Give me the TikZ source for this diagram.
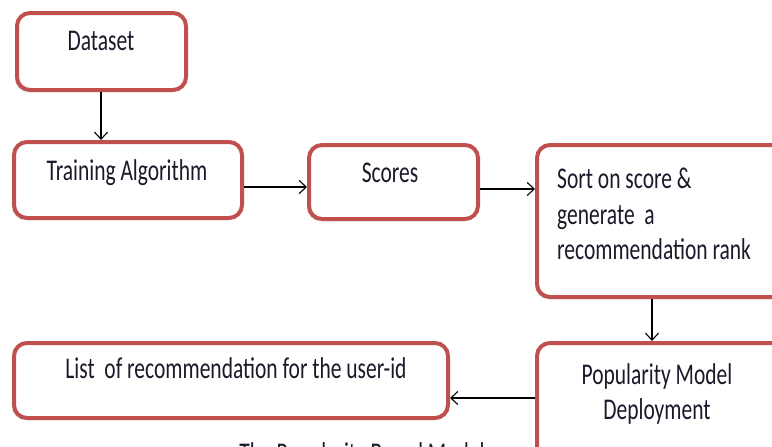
\documentclass[tikz,border=0pt]{standalone}
\usepackage{fontspec}
\usepackage{graphicx}
\setmainfont{Carlito}
\usetikzlibrary{arrows.meta,shadows}
\definecolor{boxred}{HTML}{C0504D}
\definecolor{ink}{HTML}{1A1A2A}
\newcommand{\tallt}[1]{\scalebox{1}[1.4]{#1}}
\tikzset{
  box/.style={draw=boxred, line width=4pt, rounded corners=13pt, fill=white,
    drop shadow={shadow xshift=-2pt, shadow yshift=-2pt, opacity=0.25, fill=black!60}},
  lbl/.style={text=ink, font=\fontsize{21.5}{35}\selectfont, inner sep=0pt},
  conn/.style={draw=black, line width=1.1pt, -{Straight Barb[length=7pt,width=13pt,line width=1.1pt]}},
}
\begin{document}
\begin{tikzpicture}[x=1pt,y=-1pt]
\useasboundingbox (0,0) rectangle (772,447);
\clip (0,0) rectangle (772,447);
% boxes
\node[box, minimum width=169pt, minimum height=77pt] (dset) at (101.5,51.5) {};
\node[box, minimum width=228pt, minimum height=76pt] (train) at (128,180) {};
\node[box, minimum width=169pt, minimum height=74pt] (score) at (393.5,182) {};
\node[box, minimum width=256pt, minimum height=152pt] (sort) at (665,221) {};
\node[box, minimum width=256pt, minimum height=118pt] (pop) at (665,402) {};
\node[box, minimum width=434pt, minimum height=75pt] (list) at (231,380.5) {};
% labels
\node[lbl, anchor=base] (tdset) at (101,50) {\tallt{Dataset}};
\node[lbl, anchor=base] (ttrain) at (127,180) {\tallt{Training Algorithm}};
\node[lbl, anchor=base] (tscore) at (390,182) {\tallt{Scores}};
\node[lbl, anchor=base west] (tsort1) at (557,188) {\tallt{Sort on score \&}};
\node[lbl, anchor=base west] (tsort2) at (557,224) {\tallt{generate\ \ a}};
\node[lbl, anchor=base west] (tsort3) at (557,259) {\tallt{recommendation rank}};
\node[lbl, anchor=base] (tpop1) at (657,384) {\tallt{Popularity Model}};
\node[lbl, anchor=base] (tpop2) at (657,419) {\tallt{Deployment}};
\node[lbl, anchor=base] (tlist) at (236,378) {\tallt{List\ \ of recommendation for the user-id}};
\node[lbl, anchor=north] (cap) at (362,442) {\tallt{The Popularity Based Model}};
% connectors
\draw[conn] (dset.south -| tdset) -- (train.north -| tdset);
\draw[conn] (train.east |- 0,187) -- (score.west |- 0,187);
\draw[conn] (score.east |- 0,189) -- (sort.west |- 0,189);
\draw[conn] (sort.south -| 652,0) -- (pop.north -| 652,0);
\draw[conn] (pop.west |- 0,398) -- (list.east |- 0,398);
\end{tikzpicture}
\end{document}
